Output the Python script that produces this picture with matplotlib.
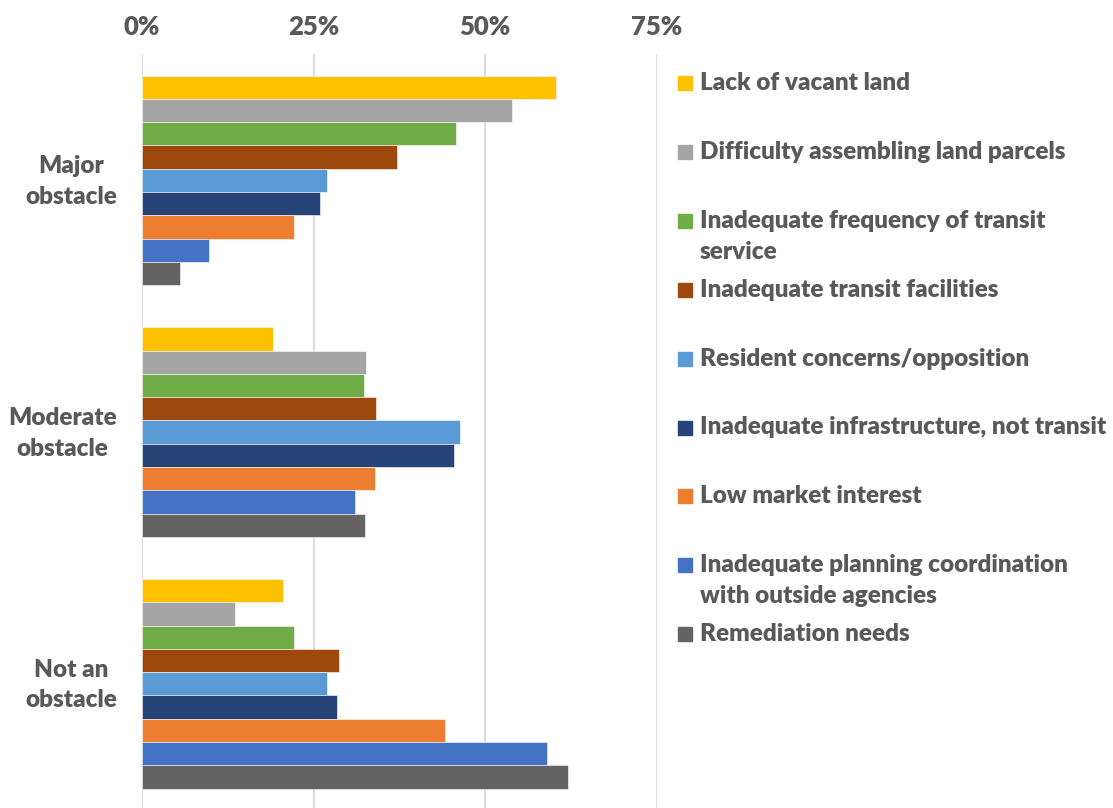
import numpy as np
import matplotlib
matplotlib.use("Agg")
import matplotlib.pyplot as plt
from matplotlib.patches import Rectangle
from matplotlib.ticker import PercentFormatter
from matplotlib.transforms import ScaledTranslation

plt.rcParams['font.family'] = ['Lato', 'DejaVu Sans']
plt.rcParams['font.weight'] = 'heavy'

# data
categories = ['Major\nobstacle', 'Moderate\nobstacle', 'Not an\nobstacle']
series = [
    'Lack of vacant land',
    'Difficulty assembling land parcels',
    'Inadequate frequency of transit\nservice',
    'Inadequate transit facilities',
    'Resident concerns/opposition',
    'Inadequate infrastructure, not transit',
    'Low market interest',
    'Inadequate planning coordination\nwith outside agencies',
    'Remediation needs',
]
major = [0.603, 0.540, 0.457, 0.372, 0.269, 0.260, 0.221, 0.098, 0.055]
moderate = [0.191, 0.326, 0.323, 0.341, 0.464, 0.455, 0.339, 0.311, 0.325]
not_obstacle = [0.206, 0.135, 0.221, 0.287, 0.269, 0.284, 0.441, 0.590, 0.621]
colors = ['#FFC000', '#A5A5A5', '#70AD47', '#9E480E', '#5B9BD5',
          '#264478', '#ED7D31', '#4472C4', '#636363']

text_color = '#595959'
W, H = 1113, 808

fig = plt.figure(figsize=(W / 100, H / 100), dpi=100)
ax = fig.add_axes([142 / W, 1 - 809.7 / H, (656.5 - 142) / W, (809.7 - 54.5) / H])

values = np.array([major, moderate, not_obstacle]).T
y = np.arange(len(categories))
h = 0.0924
for i, (name, col) in enumerate(zip(series, colors)):
    ax.barh(y + (i - 4) * h, values[i], height=h, color=col,
            edgecolor='white', linewidth=0.4, zorder=2)

ax.set_ylim(2.5, -0.5)
ax.set_xlim(0, 0.75)
ax.set_xticks([0, 0.25, 0.5, 0.75])
ax.xaxis.set_major_formatter(PercentFormatter(1.0, decimals=0))
ax.xaxis.tick_top()
ax.set_yticks(y)
ax.set_yticklabels(categories, ha='right', multialignment='center', linespacing=1.48)
ax.tick_params(axis='x', length=0, pad=11, labelsize=18.5, labelcolor=text_color)
ax.tick_params(axis='y', length=0, pad=18, labelsize=17.5, labelcolor=text_color)
# nudge category labels up a bit
for lab in ax.get_yticklabels():
    lab.set_transform(lab.get_transform() + ScaledTranslation(0, 5 / 100, fig.dpi_scale_trans))
ax.grid(axis='x', color='#D9D9D9', linewidth=1.3)
ax.set_axisbelow(True)
for s in ax.spines.values():
    s.set_visible(False)

# legend
top = 83
step = 68.9
for i, (name, col) in enumerate(zip(series, colors)):
    yc = top + i * step
    fig.patches.append(Rectangle((678 / W, 1 - (yc + 7) / H), 14 / W, 14 / H,
                                 transform=fig.transFigure, color=col))
    for j, line in enumerate(name.split('\n')):
        fig.text(700 / W, 1 - (yc + j * 31) / H, line, ha='left', va='center',
                 fontsize=17.5, color=text_color)

fig.savefig('out.png', dpi=100)
